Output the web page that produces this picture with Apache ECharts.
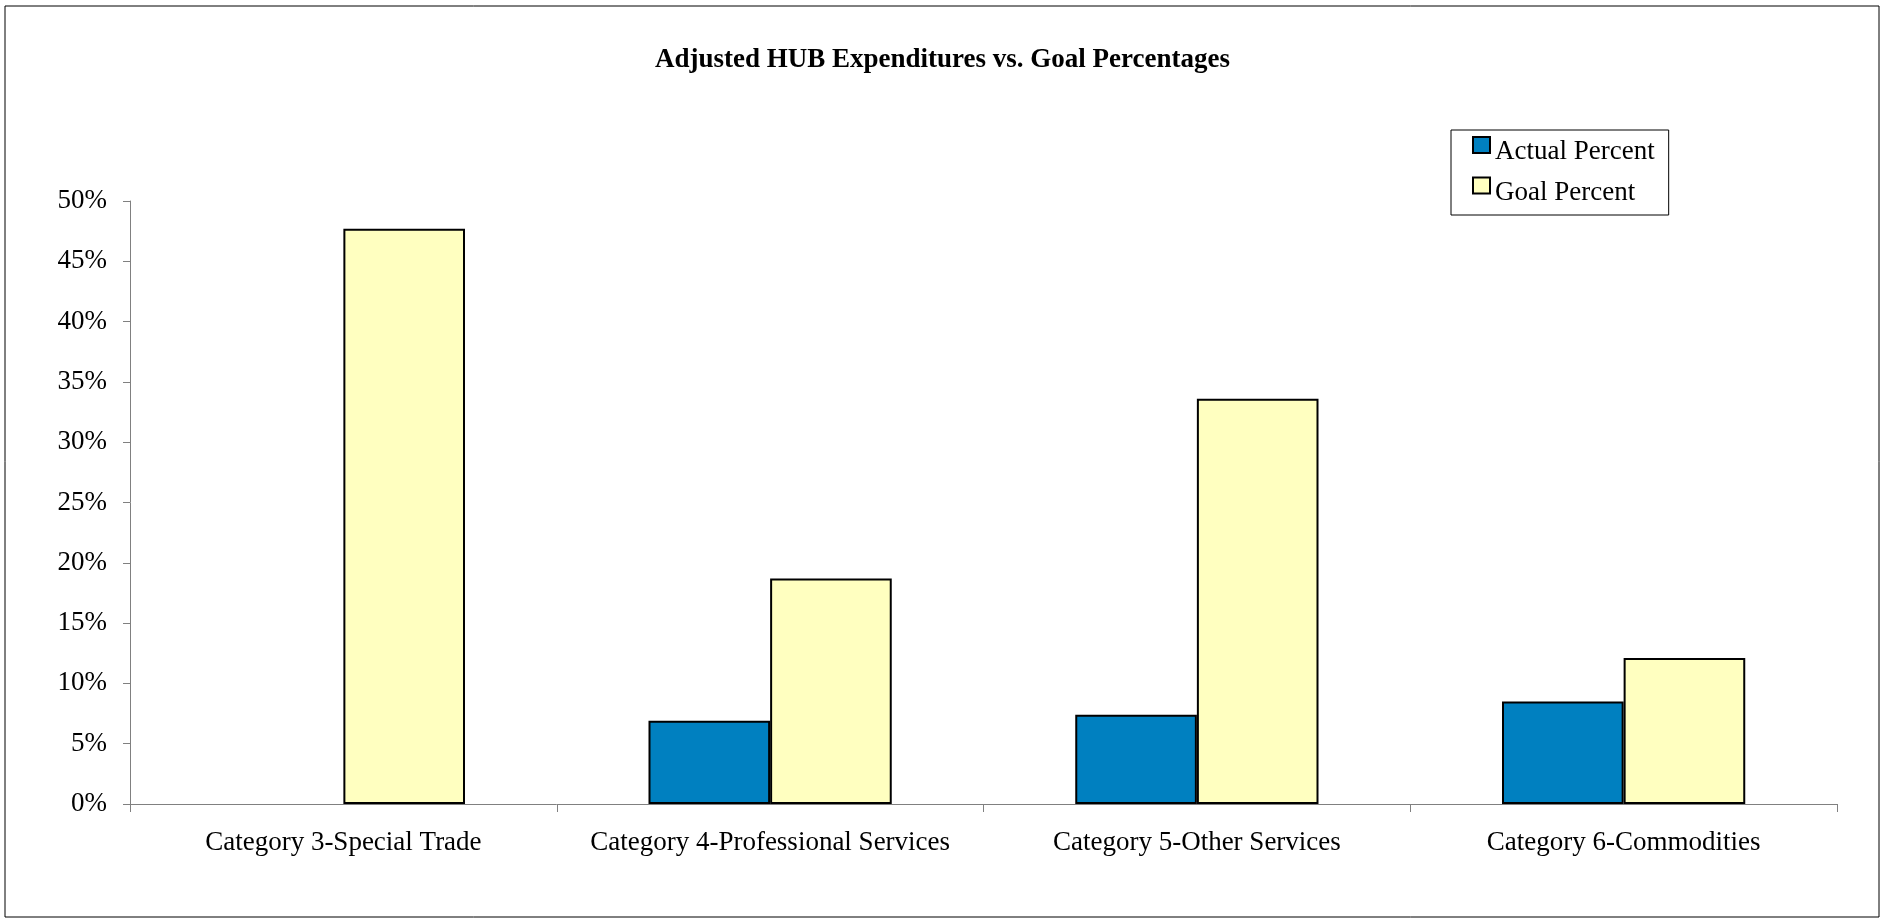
<!DOCTYPE html>
<html>
<head>
<meta charset="utf-8">
<title>Adjusted HUB Expenditures vs. Goal Percentages</title>
<script src="https://cdn.jsdelivr.net/npm/echarts@6/dist/echarts.min.js"></script>
<style>
  html, body { margin: 0; padding: 0; background: #fff; }
  #main { width: 1885px; height: 919px; }
</style>
</head>
<body>
<div id="main"></div>
<script>
// categories and values (percent)
const categories = ['Category 3-Special Trade', 'Category 4-Professional Services', 'Category 5-Other Services', 'Category 6-Commodities'];
const actualPercent = ['-', 6.9, 7.4, 8.5];
const goalPercent = [47.7, 18.7, 33.6, 12.1];
const yTicks = [0, 5, 10, 15, 20, 25, 30, 35, 40, 45, 50];

const serif = 'Liberation Serif';
const chart = echarts.init(document.getElementById('main'));

const option = {
  backgroundColor: '#fff',
  animation: false,
  title: {
    text: 'Adjusted HUB Expenditures vs. Goal Percentages',
    left: 'center',
    top: 42,
    textStyle: { fontFamily: serif, fontWeight: 'bold', fontSize: 27, color: '#000' }
  },
  // outer chart border
  graphic: [{
    type: 'rect',
    shape: { x: 5, y: 6, width: 1874, height: 911 },
    style: { fill: 'none', stroke: '#000', lineWidth: 1 },
    silent: true
  }],
  legend: {
    orient: 'vertical',
    left: 1451,
    top: 130,
    data: ['Actual Percent', 'Goal Percent'],
    backgroundColor: '#fff',
    borderColor: '#000',
    borderWidth: 1,
    padding: [6, 14, 9, 21],
    itemWidth: 17,
    itemHeight: 16,
    itemGap: 11,
    icon: 'rect',
    // rich text so the top padding pushes the label below the swatch centre
    formatter: '{t|{name}}',
    textStyle: {
      padding: [14, 0, 0, 0],
      rich: { t: { fontFamily: serif, fontSize: 27, color: '#000', lineHeight: 14 } }
    }
  },
  grid: { left: 130, right: 48, top: 201, bottom: 115 },
  xAxis: {
    type: 'category',
    data: categories,
    axisLine: { lineStyle: { color: '#808080', width: 1 } },
    axisTick: { show: true, length: 8, lineStyle: { color: '#808080' } },
    axisLabel: { fontFamily: serif, fontSize: 27, color: '#000', margin: 25, interval: 0 }
  },
  yAxis: {
    type: 'value',
    min: 0,
    max: 50,
    interval: 5,
    splitLine: { show: false },
    axisLine: { show: true, lineStyle: { color: '#808080', width: 1 } },
    axisTick: { show: true, length: 7, lineStyle: { color: '#808080' } },
    axisLabel: {
      fontFamily: serif, fontSize: 27, color: '#000', margin: 23,
      formatter: function (v) { return yTicks.indexOf(v) >= 0 ? v + '%' : ''; }
    }
  },
  series: [{
    name: 'Actual Percent',
    type: 'bar',
    data: actualPercent,
    barGap: '0%',
    barCategoryGap: '43%',
    itemStyle: { color: '#0080C0', borderColor: '#000', borderWidth: 2 }
  }, {
    name: 'Goal Percent',
    type: 'bar',
    data: goalPercent,
    itemStyle: { color: '#FFFFC0', borderColor: '#000', borderWidth: 2 }
  }]
};

chart.setOption(option);
</script>
</body>
</html>
